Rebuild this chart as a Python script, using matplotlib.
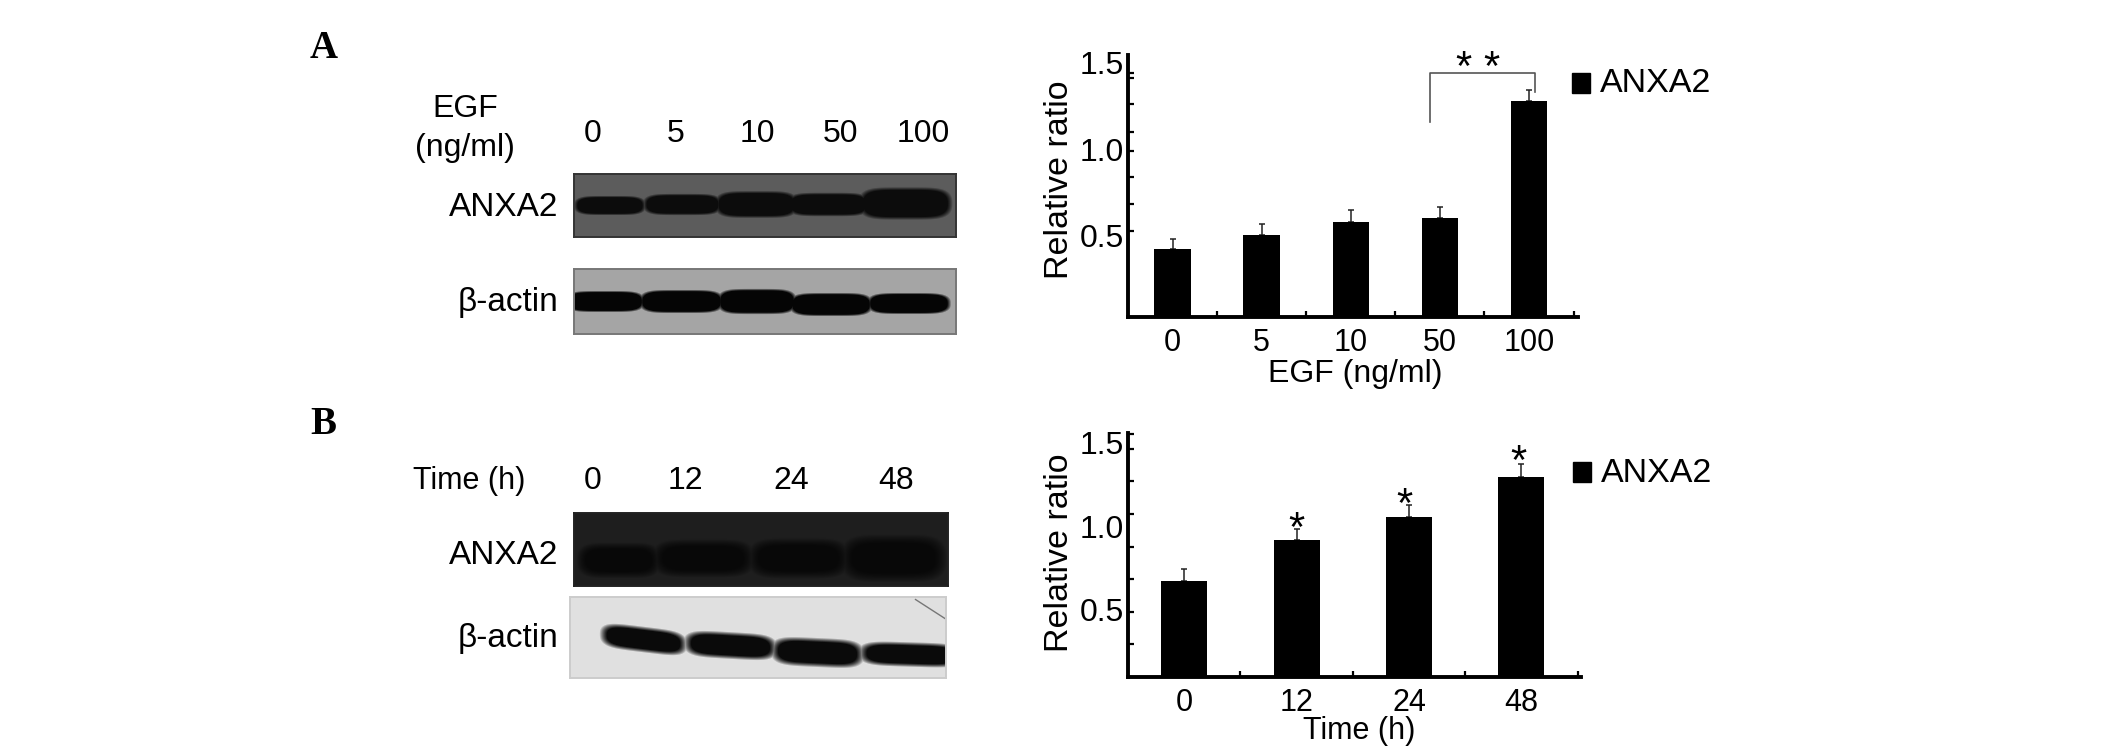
import numpy as np
import matplotlib
matplotlib.use('Agg')
import matplotlib.pyplot as plt
from matplotlib.patches import Rectangle

plt.rcParams['font.family'] = ['Liberation Sans', 'DejaVu Sans']

W, H = 2126, 747

# bar data panel A
egf_doses = ['0', '5', '10', '50', '100']
egf_ratio = [0.417, 0.50, 0.578, 0.60, 1.28]
egf_err = [0.06, 0.066, 0.067, 0.063, 0.063]
# bar data panel B
time_points = ['0', '12', '24', '48']
time_ratio = [0.673, 0.917, 1.054, 1.296]
time_err = [0.073, 0.069, 0.071, 0.077]
time_stars = [0.98, 1.12, 1.38]

y_labels = ['0.5', '1.0', '1.5']
y_label_pos = [0.5, 1.0, 1.5]
egf_minor = [0.525, 0.68, 0.835, 0.99, 1.10, 1.26, 1.415, 1.44]
time_minor = [0.298, 0.49, 0.686, 0.878, 1.07, 1.27, 1.46, 1.55]

# blot bands: left, right, centre, half height, tilt (pixels inside the blot)
a_anxa2 = [(1, 70, 31, 9, 0), (70, 146, 30, 10, 0), (142, 222, 30, 12.5, 0),
           (214, 294, 30, 11, 0), (286, 376, 29, 15, 0)]
a_actin = [(-8, 69, 32, 10, 0), (66, 148, 32, 11, 0), (144, 221, 32, 12, 0),
           (216, 297, 35, 11, 0), (294, 375, 34, 10, 0)]
b_anxa2 = [(6, 83, 47, 15, 0), (82, 176, 45, 16, 0), (178, 271, 45, 17, 0), (271, 368, 45, 20, 0)]
b_actin = [(32, 114, 42, 11.5, 10), (116, 204, 48, 12, 5), (203, 291, 55, 13, 4), (291, 389, 57, 11, 3)]

fig = plt.figure(figsize=(W / 100, H / 100), dpi=100)


def px_axes(x0, y0, x1, y1):
    return fig.add_axes([x0 / W, 1 - y1 / H, (x1 - x0) / W, (y1 - y0) / H])


def blot(x0, y0, x1, y1, bands, bg, dark, edge, soft=0.5):
    w, h = x1 - x0, y1 - y0
    yy, xx = np.mgrid[0:h, 0:w]
    s = np.zeros((h, w))
    for left, right, yc, hh, tilt in bands:
        xc = (left + right) / 2
        hw = (right - left) / 2
        u = (xx - xc) / hw
        v = (yy - yc - tilt * u / 2) / hh
        r = np.abs(u) ** 5 + np.abs(v) ** 2.6
        s = np.maximum(s, np.clip((1 + soft / 2 - r) / soft, 0, 1))
    img = bg + (dark - bg) * s
    ax = px_axes(x0, y0, x1, y1)
    ax.imshow(img, cmap='gray', vmin=0, vmax=255, aspect='auto', interpolation='bilinear')
    ax.set_xticks([])
    ax.set_yticks([])
    for sp in ax.spines.values():
        sp.set_color(edge)
        sp.set_linewidth(1.4)
    return ax


def bars(box, labels, vals, errs, xmax, ylim, minor):
    ax = px_axes(*box)
    x = np.arange(len(vals))
    ax.bar(x, vals, width=0.41, color='black', zorder=2)
    ax.errorbar(x, vals, yerr=[np.zeros(len(errs)), errs], fmt='none', ecolor='#222222',
                elinewidth=1.1, capsize=2, capthick=1.1, zorder=1)
    ax.set_xlim(-0.5, xmax)
    ax.set_ylim(*ylim)
    ax.set_xticks(x, labels, fontsize=22)
    ax.set_xticks(x + 0.5, minor=True)
    ax.set_yticks(y_label_pos, y_labels, fontsize=23)
    ax.set_yticks(minor, minor=True)
    ax.tick_params(axis='x', which='major', length=0, pad=8)
    ax.tick_params(axis='y', which='major', length=0, pad=3)
    ax.tick_params(axis='both', which='minor', length=4, width=1.6, direction='in')
    ax.spines['top'].set_visible(False)
    ax.spines['right'].set_visible(False)
    ax.spines['left'].set_linewidth(2.8)
    ax.spines['bottom'].set_linewidth(2.8)
    ax.patch.set_alpha(0)
    return ax


ax_a = bars((1128, 55, 1578, 317), egf_doses, egf_ratio, egf_err, 4.55, (0.025, 1.546), egf_minor)
ax_b = bars((1128, 433, 1581, 677), time_points, time_ratio, time_err, 3.53, (0.1, 1.556), time_minor)

# significance marks
ax_a.plot([2.885, 2.885, 4.07, 4.07], [1.159, 1.44, 1.44, 1.333], color='#555555', lw=1.2, clip_on=False)
for sx in [3.26, 3.58]:
    ax_a.text(sx, 1.466, '*', fontsize=30, ha='center', va='center', clip_on=False)
for sx, sy in zip([1, 1.96, 2.97], time_stars):
    ax_b.text(sx, sy, '*', fontsize=30, ha='center', va='center', clip_on=False, zorder=3)

blot(574, 174, 956, 237, a_anxa2, 92, 12, '#333333', 0.6)
blot(574, 269, 956, 334, a_actin, 165, 5, '#777777', 0.5)
blot(574, 513, 948, 586, b_anxa2, 30, 8, '#222222', 1.2)
ax_ba = blot(570, 597, 946, 678, b_actin, 224, 10, '#cccccc', 0.9)
ax_ba.plot([345, 376], [2, 22], color='#777777', lw=1)
ax_ba.set_xlim(-0.5, 375.5)
ax_ba.set_ylim(80.5, -0.5)

# everything else is placed in figure pixels
ov = fig.add_axes([0, 0, 1, 1], zorder=-1)
ov.set_xlim(0, W)
ov.set_ylim(H, 0)
ov.axis('off')


def label(x, y, s, size=23, ha='center', **kw):
    ov.text(x, y, s, fontsize=size, ha=ha, va='center', **kw)


label(324, 49, 'A', 28, family='Liberation Serif', fontweight='bold')
label(323, 425, 'B', 28, family='Liberation Serif', fontweight='bold')
label(465, 109, 'EGF')
label(465, 148, '(ng/ml)')
for lx, t in zip([593, 676, 757, 841, 923], egf_doses):
    label(lx, 134, t, 23)
label(469, 481, 'Time (h)', 22)
for lx, t in zip([593, 685, 791, 896], time_points):
    label(lx, 481, t, 23)
label(558, 207, 'ANXA2', 24, ha='right')
label(558, 302, '\u03b2-actin', 24, ha='right')
label(558, 555, 'ANXA2', 24, ha='right')
label(558, 638, '\u03b2-actin', 24, ha='right')
label(1060, 180, 'Relative ratio', 24.5, rotation=90)
label(1059, 553, 'Relative ratio', 24.5, rotation=90)
label(1355, 374, 'EGF (ng/ml)', 23)
label(1359, 731, 'Time (h)', 22)

ov.add_patch(Rectangle((1572, 73), 18, 20, color='black'))
label(1600, 84, 'ANXA2', 24.5, ha='left')
ov.add_patch(Rectangle((1573, 462), 18, 20, color='black'))
label(1601, 473, 'ANXA2', 24.5, ha='left')

fig.savefig('out.png', dpi=100)
